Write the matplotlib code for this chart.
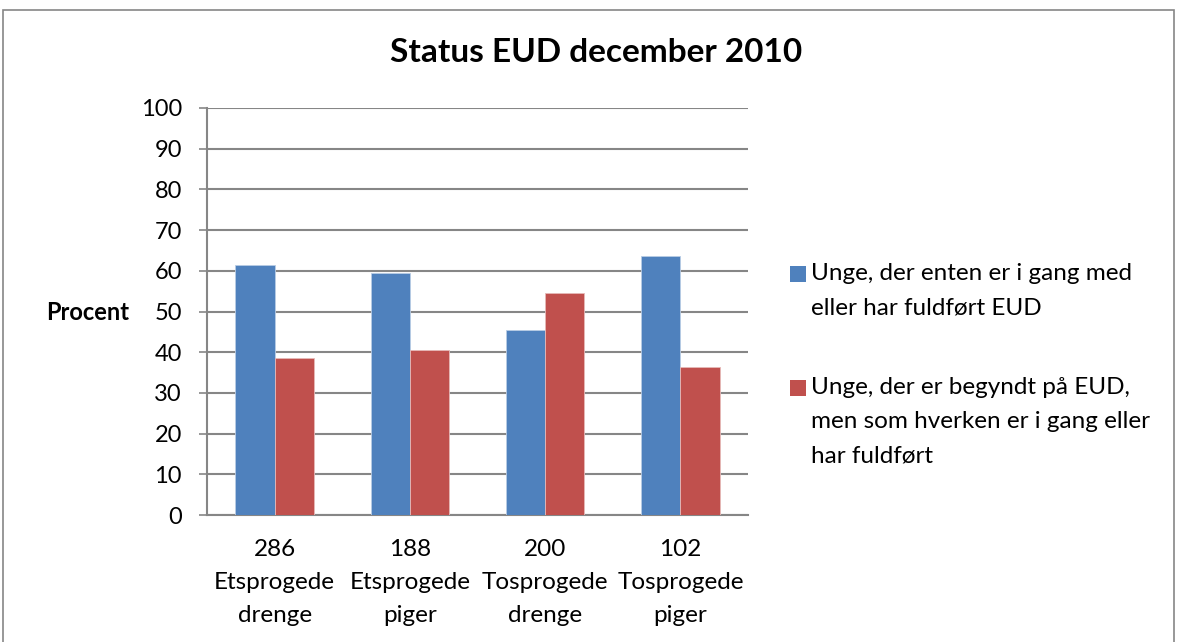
import numpy as np
import matplotlib.pyplot as plt
from matplotlib.patches import Rectangle

plt.rcParams['font.family'] = ['Lato', 'DejaVu Sans']

kategorier = ['286\nEtsprogede\ndrenge', '188\nEtsprogede\npiger',
              '200\nTosprogede\ndrenge', '102\nTosprogede\npiger']
i_gang = [61.5, 59.5, 45.5, 63.7]
afbrudt = [38.5, 40.5, 54.5, 36.3]
serie_navne = ['Unge, der enten er i gang med\neller har fuldført EUD',
               'Unge, der er begyndt på EUD,\nmen som hverken er i gang eller\nhar fuldført']
blaa = '#4f81bd'
roed = '#c0504d'
graa = '#868686'

W, H = 1177, 642
fig = plt.figure(figsize=(W/100, H/100), dpi=100)
ax = fig.add_axes([207/W, 1 - 515/H, (748-207)/W, (515-108)/H])

x = np.arange(len(kategorier))
bw = 0.29
ax.bar(x - bw/2, i_gang, bw, color=blaa, edgecolor='#b9cde5', linewidth=0.6, zorder=3)
ax.bar(x + bw/2, afbrudt, bw, color=roed, edgecolor='#e6b9b8', linewidth=0.6, zorder=3)

ax.set_xlim(-0.5, len(kategorier) - 0.5)
ax.set_ylim(0, 100)
ax.set_yticks(range(0, 101, 10))
ax.set_xticks(x)
ax.set_xticklabels(kategorier, fontsize=17.5, linespacing=1.72)
ax.tick_params(axis='y', labelsize=17, length=6, width=1.2, color=graa, pad=12)
ax.tick_params(axis='x', length=0, pad=17)
ax.grid(axis='y', color=graa, linewidth=1.5, zorder=0)
for s in ['top', 'right']:
    ax.spines[s].set_visible(False)
for s in ['left', 'bottom']:
    ax.spines[s].set_color(graa)
    ax.spines[s].set_linewidth(1.5)

fig.text(596/W, 1 - 52/H, 'Status EUD december 2010', fontsize=24,
         fontweight='bold', ha='center', va='center')
fig.text(88/W, 1 - 313/H, 'Procent', fontsize=17, fontweight='bold',
         ha='center', va='center')

# legende: firkant ved første linje i hver tekst
for farve, navn, y0 in zip([blaa, roed], serie_navne, [274, 388]):
    fig.add_artist(Rectangle((790/W, 1 - (y0 + 8)/H), 16/W, 16/H,
                             transform=fig.transFigure, facecolor=farve, edgecolor='none'))
    fig.text(811/W, 1 - (y0 - 11)/H, navn, fontsize=17.5, ha='left', va='top',
             linespacing=1.78)

fig.add_artist(Rectangle((3/W, -0.1), (1174-3)/W, 1.1 - 10/H, transform=fig.transFigure,
                         fill=False, edgecolor=graa, linewidth=1.2))

fig.savefig('out.png', dpi=100)
